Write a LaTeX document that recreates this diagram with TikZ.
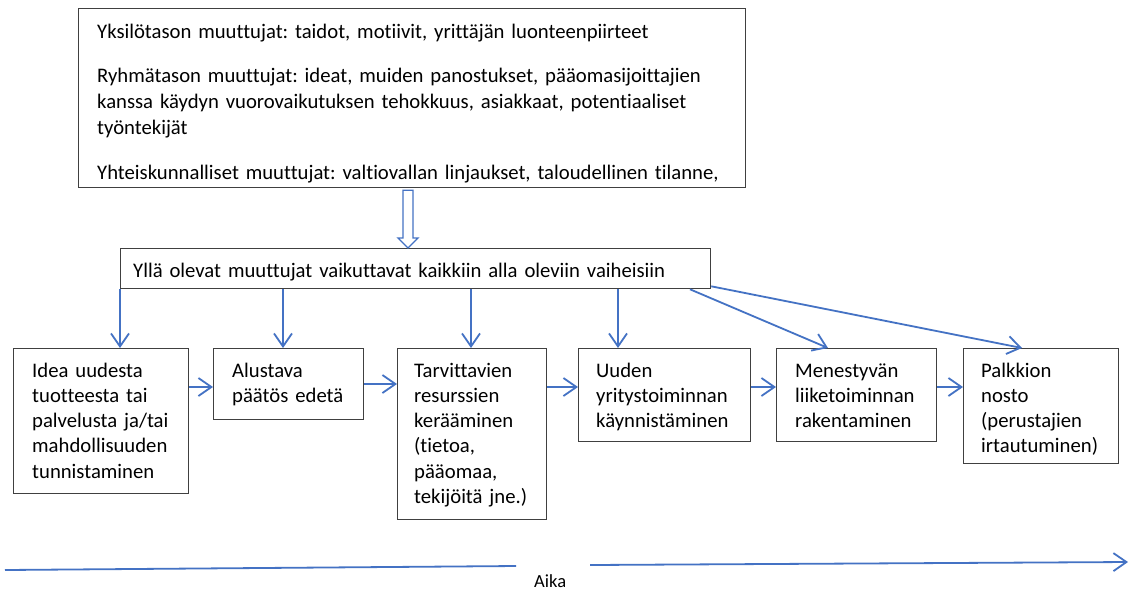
\documentclass[tikz,border=0pt]{standalone}
\usepackage{fontspec}
\setmainfont{Carlito}[Ligatures=NoCommon]
\usetikzlibrary{arrows.meta,calc}
\definecolor{flowblue}{HTML}{4472C4}
\definecolor{boxgray}{HTML}{404040}
\frenchspacing
\tikzset{
  box/.style={draw=boxgray, line width=1.3pt, fill=white, rectangle, inner sep=0pt, anchor=north west},
  txt/.style={anchor=base west, inner sep=0pt, align=left, text width=#1, font=\fontsize{20.7}{25.3}\selectfont\frenchspacing},
  txt/.default=600pt,
  flow/.style={draw=flowblue, line width=1.8pt, -{Straight Barb[length=13pt,width=18pt,line width=1.8pt]}},
  axis/.style={draw=flowblue, line width=1.8pt},
  hollow/.style={draw=flowblue, line width=1.3pt, fill=white, line join=miter}
}
\begin{document}
\begin{tikzpicture}[x=1pt,y=-1pt]
\useasboundingbox (0,0) rectangle (1134,590);
\fill[white] (0,0) rectangle (1134,590);

% top box
\node[box, minimum width=667pt, minimum height=179pt] (top) at (78,8) {};
\node[txt=645pt, font=\fontsize{20.7}{26}\selectfont\frenchspacing] (p1) at (97,38) {Yksilötason muuttujat: taidot, motiivit, yrittäjän luonteenpiirteet};
\node[txt=645pt, font=\fontsize{20.7}{26}\selectfont\frenchspacing] (p2) at (97,82) {Ryhmätason muuttujat: ideat, muiden panostukset, pääomasijoittajien\\kanssa käydyn vuorovaikutuksen tehokkuus, asiakkaat, potentiaaliset\\työntekijät};
\node[txt=645pt, font=\fontsize{20.7}{26}\selectfont\frenchspacing] (p3) at (97,179) {Yhteiskunnalliset muuttujat: valtiovallan linjaukset, taloudellinen tilanne,};

% middle box
\node[box, minimum width=590pt, minimum height=40pt] (mid) at (120,248) {};
\node[txt=575pt] (mt) at (133,277) {Yllä olevat muuttujat vaikuttavat kaikkiin alla oleviin vaiheisiin};

% hollow arrow from top to mid
\path let \p1=(top.south), \p2=(mid.north) in
  coordinate (ha) at (408,\y1) coordinate (hb) at (408,\y2);
\draw[hollow] ($(ha)+(-5,2)$) -- ($(hb)+(-5,-10)$) -- ($(hb)+(-10,-10)$) -- (hb)
  -- ($(hb)+(10,-10)$) -- ($(hb)+(5,-10)$) -- ($(ha)+(5,2)$) -- cycle;

% phase boxes
\node[box, minimum width=175pt, minimum height=145pt] (b1) at (13,348) {};
\node[box, minimum width=150pt, minimum height=71pt] (b2) at (213,348) {};
\node[box, minimum width=149pt, minimum height=171pt] (b3) at (397,348) {};
\node[box, minimum width=172pt, minimum height=93pt] (b4) at (578,348) {};
\node[box, minimum width=160pt, minimum height=93pt] (b5) at (776,348) {};
\node[box, minimum width=155pt, minimum height=115pt] (b6) at (963,348) {};

\node[txt=155pt] (t1) at (32,377) {Idea uudesta\\tuotteesta tai\\palvelusta ja/tai\\mahdollisuuden\\tunnistaminen};
\node[txt=130pt] (t2) at (232,377) {Alustava\\päätös edetä};
\node[txt=130pt] (t3) at (414,377) {Tarvittavien\\resurssien\\kerääminen\\(tietoa,\\pääomaa,\\tekijöitä jne.)};
\node[txt=155pt] (t4) at (596,377) {Uuden\\yritystoiminnan\\käynnistäminen};
\node[txt=140pt] (t5) at (795,377) {Menestyvän\\liiketoiminnan\\rakentaminen};
\node[txt=135pt] (t6) at (981,377) {Palkkion\\nosto\\(perustajien\\irtautuminen)};

% vertical arrows
\draw[flow] (mid.south -| 120,0) -- (b1.north -| 120,0);
\draw[flow] (mid.south -| 283,0) -- (b2.north -| 283,0);
\draw[flow] (mid.south -| 471,0) -- (b3.north -| 471,0);
\draw[flow] (mid.south -| 618,0) -- (b4.north -| 618,0);
\draw[flow] (mid.south -| 690,0) -- (b5.north -| 828,0);
\draw[flow] ($(mid.south east)+(0,-3)$) -- (b6.north -| 1022,0);

% horizontal arrows
\draw[flow] (b1.east |- 0,387) -- (b2.west |- 0,387);
\draw[flow] (b2.east |- 0,384) -- (b3.west |- 0,384);
\draw[flow] (b3.east |- 0,387) -- (b4.west |- 0,387);
\draw[flow] (b4.east |- 0,387) -- (b5.west |- 0,387);
\draw[flow] (b5.east |- 0,387) -- (b6.west |- 0,387);

% time axis
\coordinate (a0) at (5,570);
\coordinate (a1) at (516,566);
\coordinate (a2) at (590,565);
\coordinate (a3) at (1128,562);
\draw[axis] (a0) -- (a1);
\draw[flow] (a2) -- (a3);
\node[anchor=base west, inner sep=0pt, font=\fontsize{18.5}{22}\selectfont] (aika) at (534,587) {Aika};
\end{tikzpicture}
\end{document}
